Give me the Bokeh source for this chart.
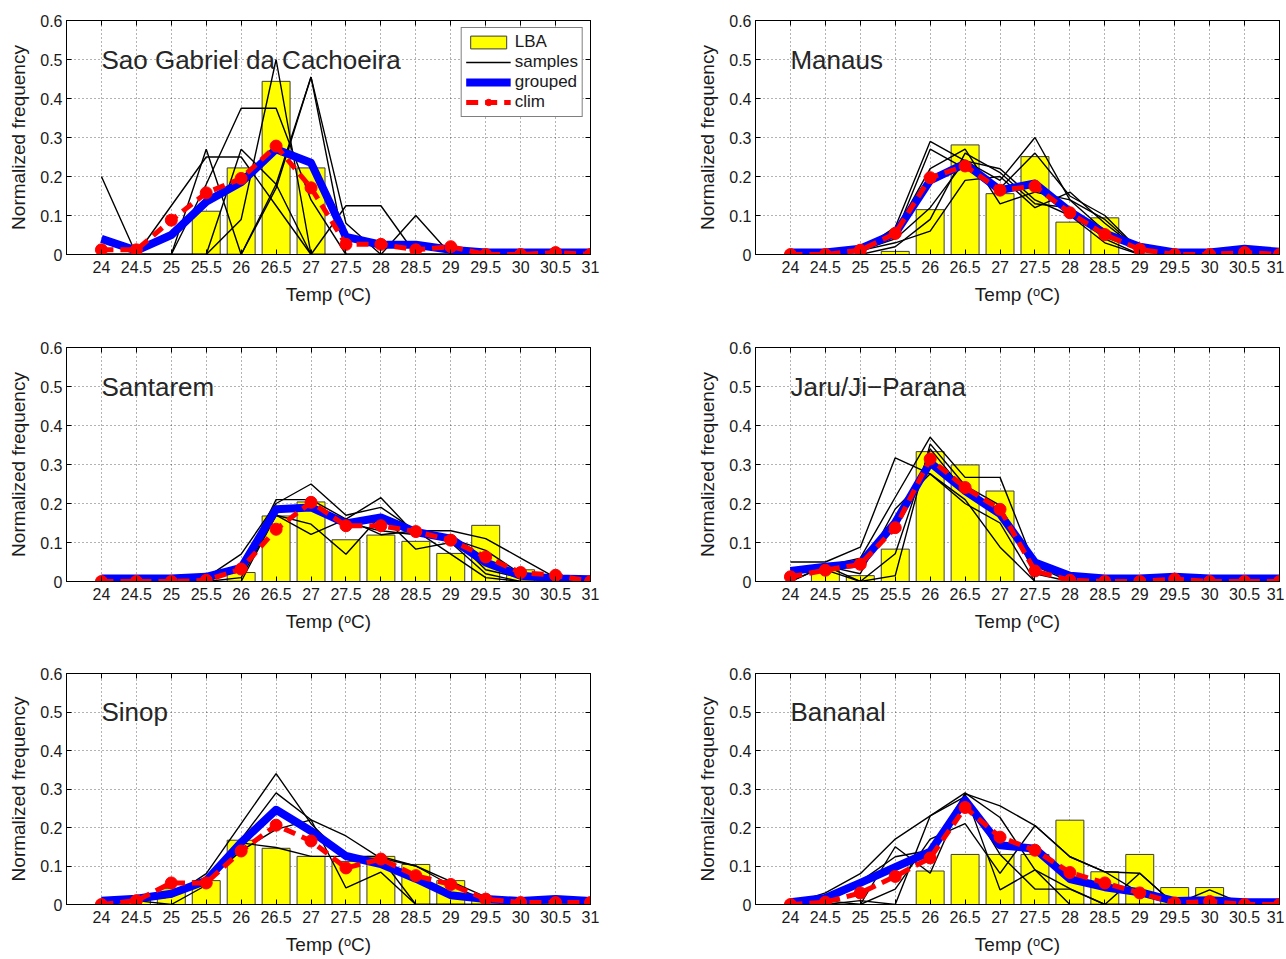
from bokeh.plotting import figure
from bokeh.models import Range1d, FixedTicker, LinearAxis, Legend, LegendItem, Label
from bokeh.layouts import column, row
from bokeh.embed import file_html
from bokeh.resources import INLINE

# ---------------- data ----------------
temps = [24, 24.5, 25, 25.5, 26, 26.5, 27, 27.5, 28, 28.5, 29, 29.5, 30, 30.5, 31]
x_tick_labels = ["24", "24.5", "25", "25.5", "26", "26.5", "27", "27.5", "28",
                 "28.5", "29", "29.5", "30", "30.5", "31"]
y_ticks = [0, 0.1, 0.2, 0.3, 0.4, 0.5, 0.6]
y_tick_labels = ["0", "0.1", "0.2", "0.3", "0.4", "0.5", "0.6"]

site_names = ["Sao Gabriel da Cachoeira", "Manaus", "Santarem",
              "Jaru/Ji\u2212Parana", "Sinop", "Bananal"]

# Sao Gabriel da Cachoeira
lba_sao = [0, 0, 0, 0.111, 0.222, 0.444, 0.222, 0, 0, 0, 0, 0, 0, 0, 0]
grouped_sao = [0.04, 0.01, 0.05, 0.135, 0.185, 0.27, 0.235, 0.045, 0.025, 0.025, 0.012, 0.005, 0.005, 0.005, 0.005]
clim_sao = [0.012, 0.012, 0.088, 0.158, 0.195, 0.278, 0.171, 0.026, 0.026, 0.012, 0.02, 0, 0, 0.005, 0]
samples_sao = [
    [0.2, 0, 0.125, 0.25, 0.25, 0.125, 0, 0, 0, 0, 0, 0, 0, 0, 0],
    [0, 0, 0, 0.27, 0, 0.18, 0.455, 0.08, 0, 0, 0, 0, 0, 0, 0],
    [0, 0, 0, 0.18, 0.375, 0.375, 0.14, 0, 0, 0, 0, 0, 0, 0, 0],
    [0, 0, 0, 0, 0.09, 0.5, 0, 0, 0, 0, 0, 0, 0, 0, 0],
    [0, 0, 0, 0, 0.27, 0.18, 0, 0.125, 0.125, 0, 0, 0, 0, 0, 0],
    [0, 0, 0, 0, 0, 0.17, 0.455, 0, 0, 0.1, 0, 0, 0, 0, 0],
]

# Manaus
lba_man = [0, 0, 0, 0.008, 0.115, 0.281, 0.156, 0.251, 0.083, 0.094, 0, 0, 0, 0, 0]
grouped_man = [0.005, 0.005, 0.015, 0.054, 0.19, 0.233, 0.165, 0.182, 0.11, 0.054, 0.02, 0.005, 0.005, 0.015, 0.007]
clim_man = [0, 0, 0.011, 0.054, 0.197, 0.227, 0.165, 0.175, 0.107, 0.051, 0.013, 0, 0, 0.005, 0]
samples_man = [
    [0, 0, 0.01, 0.07, 0.29, 0.24, 0.19, 0.3, 0.14, 0.09, 0.01, 0, 0, 0, 0],
    [0, 0, 0.01, 0.05, 0.27, 0.22, 0.17, 0.26, 0.15, 0.1, 0.01, 0, 0, 0, 0],
    [0, 0, 0.01, 0.06, 0.22, 0.27, 0.13, 0.16, 0.14, 0.06, 0.01, 0, 0, 0, 0],
    [0, 0, 0, 0.02, 0.09, 0.26, 0.21, 0.13, 0.12, 0.04, 0, 0, 0, 0, 0],
    [0, 0, 0.01, 0.03, 0.06, 0.19, 0.2, 0.12, 0.16, 0.08, 0.01, 0, 0, 0, 0],
    [0, 0, 0.01, 0.04, 0.12, 0.24, 0.22, 0.14, 0.1, 0.03, 0, 0, 0, 0, 0],
]

# Santarem
lba_san = [0, 0, 0, 0, 0.023, 0.168, 0.204, 0.107, 0.119, 0.103, 0.072, 0.144, 0.03, 0, 0]
grouped_san = [0.008, 0.008, 0.008, 0.012, 0.035, 0.185, 0.19, 0.149, 0.164, 0.127, 0.11, 0.049, 0.015, 0.008, 0.006]
clim_san = [0, 0, 0, 0.003, 0.032, 0.134, 0.203, 0.143, 0.143, 0.128, 0.106, 0.063, 0.023, 0.016, 0]
samples_san = [
    [0, 0, 0, 0.01, 0.07, 0.2, 0.25, 0.17, 0.19, 0.13, 0.13, 0.11, 0.06, 0.01, 0],
    [0, 0, 0, 0, 0.03, 0.21, 0.21, 0.16, 0.215, 0.12, 0.11, 0.08, 0.02, 0, 0],
    [0, 0, 0, 0, 0.01, 0.17, 0.147, 0.07, 0.17, 0.083, 0.1, 0.02, 0, 0, 0],
    [0, 0, 0, 0, 0, 0.17, 0.121, 0.16, 0.12, 0.13, 0.07, 0.01, 0, 0, 0],
    [0, 0, 0, 0.01, 0.04, 0.18, 0.2, 0.15, 0.13, 0.12, 0.12, 0.03, 0.01, 0, 0],
]

# Jaru/Ji-Parana
lba_jar = [0, 0.028, 0.015, 0.083, 0.333, 0.299, 0.232, 0, 0, 0, 0, 0, 0, 0, 0]
grouped_jar = [0.027, 0.038, 0.046, 0.151, 0.305, 0.232, 0.173, 0.049, 0.015, 0.008, 0.008, 0.012, 0.008, 0.008, 0.008]
clim_jar = [0.012, 0.029, 0.044, 0.138, 0.314, 0.241, 0.185, 0.027, 0.003, 0, 0, 0.006, 0, 0, 0]
samples_jar = [
    [0.05, 0.05, 0.088, 0.317, 0.276, 0.2, 0.15, 0, 0, 0, 0, 0, 0, 0, 0],
    [0, 0.04, 0.06, 0.216, 0.37, 0.267, 0.267, 0.04, 0, 0, 0, 0, 0, 0, 0],
    [0.03, 0.03, 0, 0.015, 0.353, 0.246, 0.195, 0.02, 0, 0, 0, 0, 0, 0, 0],
    [0, 0.04, 0.02, 0.186, 0.276, 0.21, 0.088, 0, 0, 0, 0, 0, 0, 0, 0],
    [0.02, 0.04, 0, 0.071, 0.34, 0.23, 0.18, 0.04, 0.01, 0, 0, 0, 0, 0, 0],
]

# Sinop
lba_sin = [0, 0.02, 0.041, 0.062, 0.167, 0.146, 0.125, 0.112, 0.125, 0.104, 0.062, 0.02, 0, 0.02, 0]
grouped_sin = [0.01, 0.015, 0.028, 0.062, 0.161, 0.246, 0.191, 0.126, 0.105, 0.067, 0.024, 0.014, 0.009, 0.014, 0.009]
clim_sin = [0, 0.01, 0.056, 0.056, 0.139, 0.206, 0.165, 0.095, 0.118, 0.075, 0.052, 0.014, 0.005, 0.005, 0.005]
samples_sin = [
    [0, 0.01, 0.02, 0.08, 0.21, 0.34, 0.21, 0.12, 0.12, 0, 0, 0, 0, 0, 0],
    [0, 0.01, 0, 0.05, 0.17, 0.29, 0.22, 0.178, 0.12, 0.1, 0.05, 0.01, 0, 0, 0],
    [0, 0.01, 0.02, 0.06, 0.16, 0.148, 0.125, 0.125, 0.125, 0.1, 0.06, 0.02, 0, 0, 0],
    [0, 0.01, 0.03, 0.06, 0.14, 0.195, 0.22, 0.043, 0.084, 0, 0, 0, 0, 0, 0],
]

# Bananal
lba_ban = [0, 0, 0, 0, 0.087, 0.13, 0.13, 0.13, 0.219, 0.085, 0.13, 0.044, 0.044, 0, 0]
grouped_ban = [0.006, 0.017, 0.056, 0.097, 0.137, 0.271, 0.154, 0.145, 0.066, 0.045, 0.032, 0.009, 0.011, 0.006, 0.006]
clim_ban = [0, 0.006, 0.03, 0.073, 0.121, 0.252, 0.175, 0.141, 0.083, 0.056, 0.03, 0.004, 0.008, 0, 0]
samples_ban = [
    [0, 0.03, 0.08, 0.17, 0.23, 0.29, 0.226, 0.09, 0.041, 0, 0, 0, 0, 0, 0],
    [0, 0.02, 0.06, 0.124, 0.141, 0.288, 0.256, 0.205, 0.124, 0.085, 0.03, 0, 0, 0, 0],
    [0, 0, 0, 0.15, 0.081, 0.288, 0.038, 0.09, 0, 0, 0, 0, 0, 0, 0],
    [0, 0.01, 0, 0.04, 0.17, 0.21, 0.081, 0.205, 0.124, 0.085, 0.081, 0, 0.038, 0, 0],
    [0, 0, 0.01, 0, 0.23, 0.28, 0.13, 0.04, 0.04, 0, 0.081, 0, 0, 0, 0],
]

# ---------------- styling ----------------
FONT = "Liberation Sans"
x_overrides = {t: lab for t, lab in zip(temps, x_tick_labels)}
y_overrides = {t: lab for t, lab in zip(y_ticks, y_tick_labels)}


def make_panel(name, lba, samples, grouped, clim, width, height,
               b_left, b_right, b_top, b_bottom, with_legend=False):
    p = figure(width=width, height=height, output_backend="svg", toolbar_location=None,
               x_range=Range1d(23.5, 31), y_range=Range1d(0, 0.6),
               min_border_left=b_left, min_border_right=b_right,
               min_border_top=b_top, min_border_bottom=b_bottom,
               background_fill_color="white", border_fill_color="white")
    p.outline_line_color = "black"
    p.outline_line_width = 1

    xt = FixedTicker(ticks=temps, minor_ticks=[])
    yt = FixedTicker(ticks=y_ticks, minor_ticks=[])
    p.xaxis.ticker = xt
    p.yaxis.ticker = yt
    p.xaxis.major_label_overrides = x_overrides
    p.yaxis.major_label_overrides = y_overrides
    for ax in (p.xaxis[0], p.yaxis[0]):
        ax.major_tick_in = 5
        ax.major_tick_out = 0
        ax.minor_tick_line_color = None
        ax.axis_line_color = "black"
        ax.major_tick_line_color = "black"
        ax.major_label_text_font = FONT
        ax.major_label_text_font_size = "16px"
        ax.major_label_text_color = "#1a1a1a"
        ax.axis_label_text_font = FONT
        ax.axis_label_text_font_size = "19px"
        ax.axis_label_text_font_style = "normal"
        ax.axis_label_text_color = "#1a1a1a"
    p.xaxis.axis_label = "Temp (\u1d52C)"
    p.yaxis.axis_label = "Normalized frequency"
    p.xaxis.major_label_standoff = 6
    p.xaxis.axis_label_standoff = 8
    p.yaxis.major_label_standoff = 4
    p.yaxis.axis_label_standoff = 8

    # box ticks on top and right (no labels drawn)
    top_ax = LinearAxis(ticker=FixedTicker(ticks=temps, minor_ticks=[]),
                        major_label_text_font_size="1px", major_label_text_color=None,
                        major_label_standoff=0,
                        major_tick_in=5, major_tick_out=0, axis_line_color="black")
    right_ax = LinearAxis(ticker=FixedTicker(ticks=y_ticks, minor_ticks=[]),
                          major_label_text_font_size="1px", major_label_text_color=None,
                          major_label_standoff=0,
                          major_tick_in=5, major_tick_out=0, axis_line_color="black")
    p.add_layout(top_ax, "above")
    p.add_layout(right_ax, "right")

    p.xgrid.ticker = xt
    p.ygrid.ticker = yt
    for g in (p.xgrid[0], p.ygrid[0]):
        g.grid_line_color = "#000000"
        g.grid_line_alpha = 0.6
        g.grid_line_dash = "1 3"
        g.grid_line_width = 1

    bars = p.vbar(x=temps, top=lba, width=0.4, fill_color="#ffff00",
                  line_color="#3c3c3c", line_width=1)
    smp = p.multi_line(xs=[temps] * len(samples), ys=samples,
                       line_color="black", line_width=1.4)
    grp = p.line(temps, grouped, line_color="#0000ff", line_width=8, line_join="round")
    cl = p.line(temps, clim, line_color="#ff0000", line_width=5, line_dash="12 7")
    cpts = p.scatter(temps, clim, size=12, fill_color="#ff0000", line_color="#ff0000")

    p.add_layout(Label(x=24, y=0.5, text=name, text_font=FONT, text_font_size="26px",
                       text_baseline="middle", text_align="left", text_color="#262626"))

    if with_legend:
        leg = Legend(items=[
            LegendItem(label="LBA", renderers=[bars]),
            LegendItem(label="samples", renderers=[smp]),
            LegendItem(label="grouped", renderers=[grp]),
            LegendItem(label="clim", renderers=[cl, cpts]),
        ], location="top_right")
        leg.label_text_font = FONT
        leg.label_text_font_size = "17px"
        leg.label_text_color = "#1a1a1a"
        leg.glyph_width = 45
        leg.glyph_height = 16
        leg.label_height = 16
        leg.label_standoff = 4
        leg.spacing = 0
        leg.padding = 4
        leg.margin = 7
        leg.border_line_color = "black"
        leg.border_line_width = 1
        leg.background_fill_color = "white"
        leg.background_fill_alpha = 1
        p.add_layout(leg)
    return p


W1, W2 = 689, 595
H1, H2, H3 = 327, 326, 304
FRAME_W, FRAME_H = 524, 234
panels = [
    (site_names[0], lba_sao, samples_sao, grouped_sao, clim_sao),
    (site_names[1], lba_man, samples_man, grouped_man, clim_man),
    (site_names[2], lba_san, samples_san, grouped_san, clim_san),
    (site_names[3], lba_jar, samples_jar, grouped_jar, clim_jar),
    (site_names[4], lba_sin, samples_sin, grouped_sin, clim_sin),
    (site_names[5], lba_ban, samples_ban, grouped_ban, clim_ban),
]
heights = [H1, H2, H3]
figs = []
for i, (nm, lba, smp, grp, cl) in enumerate(panels):
    r, c = divmod(i, 2)
    h = heights[r]
    top = 20
    bottom = h - top - FRAME_H
    if c == 0:
        f = make_panel(nm, lba, smp, grp, cl, W1, h, 66, W1 - 66 - FRAME_W, top, bottom,
                       with_legend=(i == 0))
    else:
        f = make_panel(nm, lba, smp, grp, cl, W2, h, 66, W2 - 66 - FRAME_W, top, bottom)
    figs.append(f)

layout = column(row(figs[0], figs[1], spacing=0),
                row(figs[2], figs[3], spacing=0),
                row(figs[4], figs[5], spacing=0), spacing=0)

open("out.html", "w").write(file_html(layout, INLINE))
